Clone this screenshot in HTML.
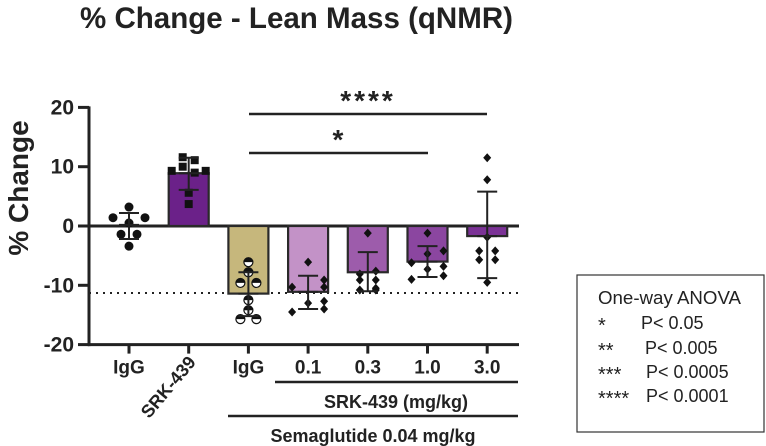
<!DOCTYPE html>
<html><head><meta charset="utf-8"><style>
html,body{margin:0;padding:0;background:#fff;width:766px;height:446px;overflow:hidden}
text{font-family:"Liberation Sans",Arial,sans-serif}
</style></head><body>
<svg id="chart" width="766" height="446" viewBox="0 0 766 446" xmlns="http://www.w3.org/2000/svg">
<text x="80" y="28" font-size="30" font-weight="bold" fill="#222" textLength="433" lengthAdjust="spacingAndGlyphs">% Change - Lean Mass (qNMR)</text>
<text transform="translate(28,188) rotate(-90)" text-anchor="middle" font-size="28" font-weight="bold" fill="#222">% Change</text>
<g id="axes"></g>
<g id="bars"></g>
<g id="points"></g>
<g>
<line x1="249" y1="114" x2="487" y2="114" stroke="#222" stroke-width="2.5"/>
<text x="368" y="110" text-anchor="middle" font-size="28" font-weight="bold" fill="#222" letter-spacing="3">****</text>
</g>
<g>
<line x1="249" y1="153" x2="428" y2="153" stroke="#222" stroke-width="2.5"/>
<text x="338" y="149" text-anchor="middle" font-size="28" font-weight="bold" fill="#222">*</text>
</g>
<g font-weight="bold" fill="#222">
<line x1="275" y1="382" x2="518" y2="382" stroke="#222" stroke-width="2.5"/>
<text x="396" y="408" text-anchor="middle" font-size="18">SRK-439 (mg/kg)</text>
<line x1="228" y1="416" x2="518" y2="416" stroke="#222" stroke-width="2.5"/>
<text x="373" y="442" text-anchor="middle" font-size="18">Semaglutide 0.04 mg/kg</text>
</g>
<g>
<rect x="577" y="275" width="187" height="157" fill="#fff" stroke="#333" stroke-width="1.2"/>
<text x="598" y="304" font-size="18" fill="#222" textLength="143" lengthAdjust="spacingAndGlyphs">One-way ANOVA</text>
<text x="598" y="332" font-size="20" fill="#222">*</text><text x="641" y="329" font-size="18" fill="#222">P&lt; 0.05</text>
<text x="598" y="357" font-size="20" fill="#222">**</text><text x="645" y="354" font-size="18" fill="#222">P&lt; 0.005</text>
<text x="598" y="381" font-size="20" fill="#222">***</text><text x="646" y="378" font-size="18" fill="#222">P&lt; 0.0005</text>
<text x="598" y="405" font-size="20" fill="#222">****</text><text x="646" y="402" font-size="18" fill="#222">P&lt; 0.0001</text>
</g>
</svg>
<script>
const categories = ["IgG","SRK-439","IgG","0.1","0.3","1.0","3.0"];
const means = [0.2, 8.9, -11.4, -11.1, -7.8, -6.0, -1.7];
const errUpper = [2.2, 11.5, -7.8, -8.4, -4.4, -3.4, 5.8];
const errLower = [-2.2, 6.1, -15.2, -14.0, -11.0, -8.6, -8.8];
const yTicks = [20, 10, 0, -10, -20];
const refLine = -11.3;
const pts0 = [3.2, 1.4, 1.4, 0.5, -1.4, -1.4, -3.4];
const pts1 = [11.6, 11.1, 10.0, 9.3, 9.3, 9.0, 5.6, 3.7];
const pts2 = [-6.1, -7.8, -9.6, -9.6, -12.5, -14.2, -15.7, -15.7];
const pts3 = [-6.1, -9.1, -10.3, -10.3, -12.7, -13.0, -14.0, -14.5];
const pts4 = [-1.2, -8.1, -7.6, -9.1, -9.1, -10.5, -10.8, -10.8];
const pts5 = [-1.2, -4.2, -4.7, -6.2, -6.8, -7.3, -8.4, -9.0];
const pts6 = [11.5, 7.8, -1.9, -4.2, -4.2, -5.7, -5.7, -9.5];
const points = [pts0, pts1, pts2, pts3, pts4, pts5, pts6];

const NS="http://www.w3.org/2000/svg";
const y = v => 226 - v*5.93;
const x = i => 129 + i*59.7;
const barColors = [null,"#6b2189","#c6b77c","#c392c7","#9d5cab","#8b46a0","#7b3296"];
const shapes = ["circle","square","half","diamond","diamond","diamond","diamond"];
const offsX = [[0,-16,16,0,-8,8,0,0],[-6,6,-6,-17,17,6,0,0],[0,0,-8,8,0,0,-8,8],[0,16,-16,16,16,0,16,-16],[0,-8,8,-8,8,8,-8,8],[0,16,0,-16,16,0,16,-16],[0,0,0,-8,8,-8,8,0]];
function mk(tag, attrs, parent){const e=document.createElementNS(NS,tag);for(const k in attrs)e.setAttribute(k,attrs[k]);parent.appendChild(e);return e;}
const axes=document.getElementById('axes'), bars=document.getElementById('bars'), pg=document.getElementById('points');
let ref=mk('line',{x1:89,x2:519,y1:y(refLine),y2:y(refLine),stroke:'#222','stroke-width':2,'stroke-dasharray':'2 5'},axes);


let ya=mk('line',{x1:89,x2:89,y1:y(20)-1,y2:y(-20)+1.5,stroke:'#222','stroke-width':3},axes);


yTicks.forEach(t=>{
  let tk=mk('line',{x1:78,x2:89,y1:y(t),y2:y(t),stroke:'#222','stroke-width':3},axes);
  
  
  let tl=mk('text',{x:74,y:y(t)+7,'text-anchor':'end','font-size':21,'font-weight':'bold',fill:'#222'},axes);
  tl.textContent=String(t);
  
  
});
let xa=mk('line',{x1:88,x2:519,y1:y(-20),y2:y(-20),stroke:'#222','stroke-width':3},axes);


categories.forEach((c,i)=>{
  let tk=mk('line',{x1:x(i),x2:x(i),y1:y(-20),y2:y(-20)+9,stroke:'#222','stroke-width':3},axes);
  
  
  let tl;
  if(i===1){tl=mk('text',{x:0,y:0,'text-anchor':'end','font-size':18,'font-weight':'bold',fill:'#222',transform:`translate(${x(i)+8},${y(-20)+18}) rotate(-50)`},axes);}
  else tl=mk('text',{x:x(i),y:y(-20)+29,'text-anchor':'middle','font-size':19,'font-weight':'bold',fill:'#222'},axes);
  tl.textContent=c;
  
  
});
means.forEach((m,i)=>{
  if(barColors[i]){
    let top=Math.min(y(m),y(0)), h=Math.abs(y(m)-y(0));
    let b=mk('rect',{x:x(i)-20,y:top,width:40,height:h,fill:barColors[i],stroke:'#2a2a2a','stroke-width':2.2},bars);
    
    
  }
});
let zl=mk('line',{x1:89,x2:519,y1:y(0),y2:y(0),stroke:'#222','stroke-width':3},axes);


points.forEach((arr,i)=>{
  arr.forEach((v,j)=>{
    const px=x(i)+(offsX[i][j]||0), py=y(v); let e;
    if(shapes[i]==='circle') e=mk('circle',{cx:px,cy:py,r:4.5,fill:'#111'},pg);
    else if(shapes[i]==='square') e=mk('rect',{x:px-4,y:py-4,width:8,height:8,fill:'#111'},pg);
    else if(shapes[i]==='half'){e=mk('g',{},pg);mk('circle',{cx:px,cy:py,r:4.5,fill:'#fff',stroke:'#111','stroke-width':1.2},e);mk('path',{d:`M${px-4.5},${py} A4.5,4.5 0 0 1 ${px+4.5},${py} Z`,fill:'#111'},e);}
    else e=mk('path',{d:`M${px},${py-4.5} L${px+4},${py} L${px},${py+4.5} L${px-4},${py} Z`,fill:'#111'},pg);
    
    
  });
});
means.forEach((m,i)=>{
  const g=mk('g',{stroke:'#222','stroke-width':2},pg);
  
  
  mk('line',{x1:x(i),x2:x(i),y1:y(errUpper[i]),y2:y(errLower[i])},g);
  mk('line',{x1:x(i)-10,x2:x(i)+10,y1:y(errUpper[i]),y2:y(errUpper[i])},g);
  mk('line',{x1:x(i)-10,x2:x(i)+10,y1:y(errLower[i]),y2:y(errLower[i])},g);
  mk('line',{x1:x(i)-10,x2:x(i)+10,y1:y(m),y2:y(m)},g);
});
</script>
</body></html>
